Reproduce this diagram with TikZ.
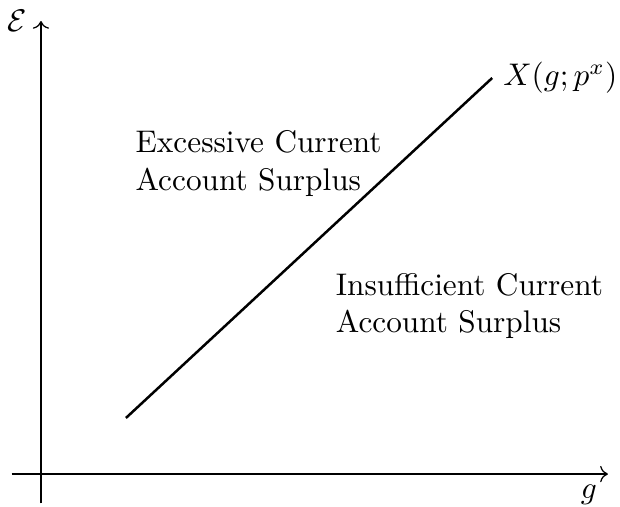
\documentclass[tikz,border=0pt]{standalone}
\usepackage{amsmath, amssymb}
\usepackage{tikz}
\usetikzlibrary{positioning, arrows.meta}

\begin{document}
\begin{tikzpicture}
    \useasboundingbox (-0.46,-0.36) rectangle (6.506,5.326);

    % Axes
    \coordinate (O) at (0,0);
    \coordinate (xend) at (6.37,0);
    \coordinate (yend) at (0,5.09);
    \draw[->] (-0.33,0) -- (xend);
    \draw[->] (0,-0.33) -- (yend);
    \node[below left] (glab) at (xend) {$g$};
    \node[left, xshift=-1pt] (elab) at (yend) {$\mathcal{E}$};

    % Schedule
    \coordinate (xstart) at (0.955,0.63);
    \coordinate (xtop) at (5.07,4.45);
    \draw[thick] (xstart) -- (xtop);
    \node[right] (xlab) at (xtop) {$X(g;p^x)$};

    % Regions
    \node[align=left, anchor=west] (excess) at (0.94,3.49) {Excessive Current\\Account Surplus};
    \node[align=left, anchor=west] (insuff) at (3.19,1.89) {Insufficient Current\\Account Surplus};
\end{tikzpicture}
\end{document}
